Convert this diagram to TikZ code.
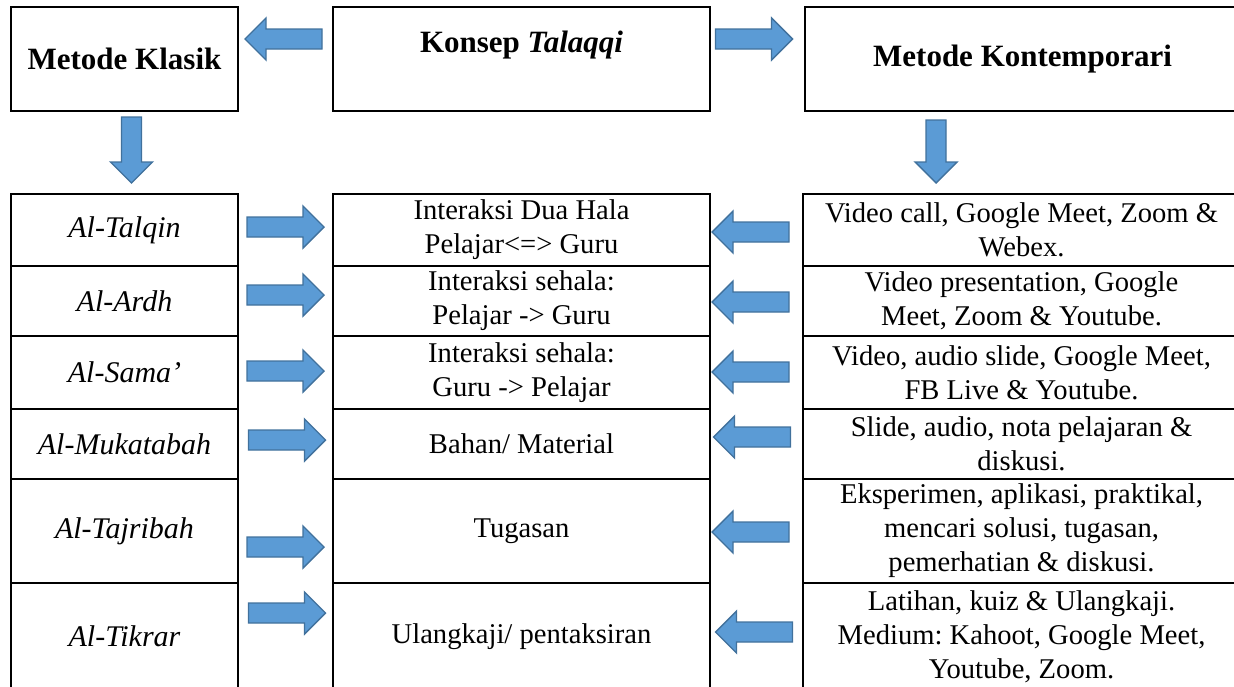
\documentclass[tikz,border=0pt]{standalone}
\usepackage{fontspec}
\setmainfont{Liberation Serif}
\usetikzlibrary{positioning}
\frenchspacing
\definecolor{arrowblue}{HTML}{5B9BD5}
\definecolor{arrowedge}{HTML}{41719C}
\tikzset{
  box/.style={draw, line width=1.1pt, inner sep=0pt, outer sep=0pt, align=center,
    font=\fontsize{14.3}{17}\selectfont},
  headbox/.style={box, minimum height=52pt, font=\bfseries\fontsize{15.5}{18}\selectfont},
  leftcell/.style={box, minimum width=113.5pt, font=\itshape\fontsize{15}{18}\selectfont},
  midcell/.style={box, minimum width=188.5pt},
  rightcell/.style={box, minimum width=218.5pt}
}

\begin{document}
\begin{tikzpicture}[x=0.5pt,y=-0.5pt]
\tikzset{
  pics/blockarrow/.style={code={
    \filldraw[fill=arrowblue, draw=arrowedge, line width=0.7pt]
      ({-#1/2},-10) -- ({#1/2-21},-10) -- ({#1/2-21},-21) -- ({#1/2},0)
      -- ({#1/2-21},21) -- ({#1/2-21},10) -- ({-#1/2},10) -- cycle;}},
  pics/blockarrow/.default=77
}
\clip (0,0) rectangle (1234,686);

% top boxes
\node[headbox, minimum width=113.5pt] (klasik) at (124.5,59) {Metode Klasik};
\node[headbox, minimum width=188.5pt] (konsep) at (521.5,59) {};
\node[font=\bfseries\fontsize{15.5}{18}\selectfont] (konseptext) at (521.5,45) {Konsep \textit{Talaqqi}};
\node[headbox, minimum width=217.5pt] (kontemporari) at (1022.5,59) {Metode Kontemporari};

% left column
\node[leftcell, minimum height=36pt] (talqin) at (124.5,230) {Al-Talqin};
\node[leftcell, minimum height=35pt] (ardh) at (124.5,301) {Al-Ardh};
\node[leftcell, minimum height=36.5pt] (sama) at (124.5,372.5) {Al-Sama’};
\node[leftcell, minimum height=35pt] (mukatabah) at (124.5,444) {Al-Mukatabah};
\node[leftcell, minimum height=52pt] (tajribah) at (124.5,531) {Al-Tajribah};
\node[leftcell, minimum height=53.5pt] (tikrar) at (124.5,636.5) {Al-Tikrar};

% middle column
\node[midcell, minimum height=36pt] (duahala) at (521.5,230) {Interaksi Dua Hala\\Pelajar<=> Guru};
\node[midcell, minimum height=35pt] (sehalaA) at (521.5,301) {Interaksi sehala:\\Pelajar -> Guru};
\node[midcell, minimum height=36.5pt] (sehalaB) at (521.5,372.5) {Interaksi sehala:\\Guru -> Pelajar};
\node[midcell, minimum height=35pt] (bahan) at (521.5,444) {Bahan/ Material};
\node[midcell, minimum height=52pt] (tugasan) at (521.5,531) {Tugasan};
\node[midcell, minimum height=53.5pt] (ulangkaji) at (521.5,636.5) {Ulangkaji/ pentaksiran};

% right column
\node[rightcell, minimum height=36pt] (videocall) at (1021.5,230) {Video call, Google Meet, Zoom \&\\Webex.};
\node[rightcell, minimum height=35pt] (presentation) at (1021.5,301) {Video presentation, Google\\Meet, Zoom \& Youtube.};
\node[rightcell, minimum height=36.5pt] (audioslide) at (1021.5,372.5) {Video, audio slide, Google Meet,\\FB Live \& Youtube.};
\node[rightcell, minimum height=35pt] (nota) at (1021.5,444) {Slide, audio, nota pelajaran \&\\diskusi.};
\node[rightcell, minimum height=52pt] (eksperimen) at (1021.5,531) {Eksperimen, aplikasi, praktikal,\\mencari solusi, tugasan,\\pemerhatian \& diskusi.};
\node[rightcell, minimum height=53.5pt] (latihan) at (1021.5,636.5) {Latihan, kuiz \& Ulangkaji.\\Medium: Kahoot, Google Meet,\\Youtube, Zoom.};

% block arrows
\coordinate (T1) at (283.5,39);
\coordinate (T2) at (754,39);
\coordinate (D1) at (131.5,150);
\coordinate (D2) at (936,151.5);
\coordinate (R1) at (285.5,227);
\coordinate (R2) at (285.5,295);
\coordinate (R3) at (285.5,371);
\coordinate (R4) at (287,440);
\coordinate (R5) at (285.5,547);
\coordinate (R6) at (287,613);
\coordinate (L1) at (750.5,232);
\coordinate (L2) at (750.5,302);
\coordinate (L3) at (750.5,372);
\coordinate (L4) at (752,437);
\coordinate (L5) at (750.5,532);
\coordinate (L6) at (754,632);

\pic[rotate=180] at (T1) {blockarrow};
\pic at (T2) {blockarrow};
\pic[rotate=-90] at (D1) {blockarrow=66};
\pic[rotate=-90] at (D2) {blockarrow=63};
\pic at (R1) {blockarrow};
\pic at (R2) {blockarrow};
\pic at (R3) {blockarrow};
\pic at (R4) {blockarrow};
\pic at (R5) {blockarrow};
\pic at (R6) {blockarrow};
\pic[rotate=180] at (L1) {blockarrow};
\pic[rotate=180] at (L2) {blockarrow};
\pic[rotate=180] at (L3) {blockarrow};
\pic[rotate=180] at (L4) {blockarrow};
\pic[rotate=180] at (L5) {blockarrow};
\pic[rotate=180] at (L6) {blockarrow};
\end{tikzpicture}
\end{document}
